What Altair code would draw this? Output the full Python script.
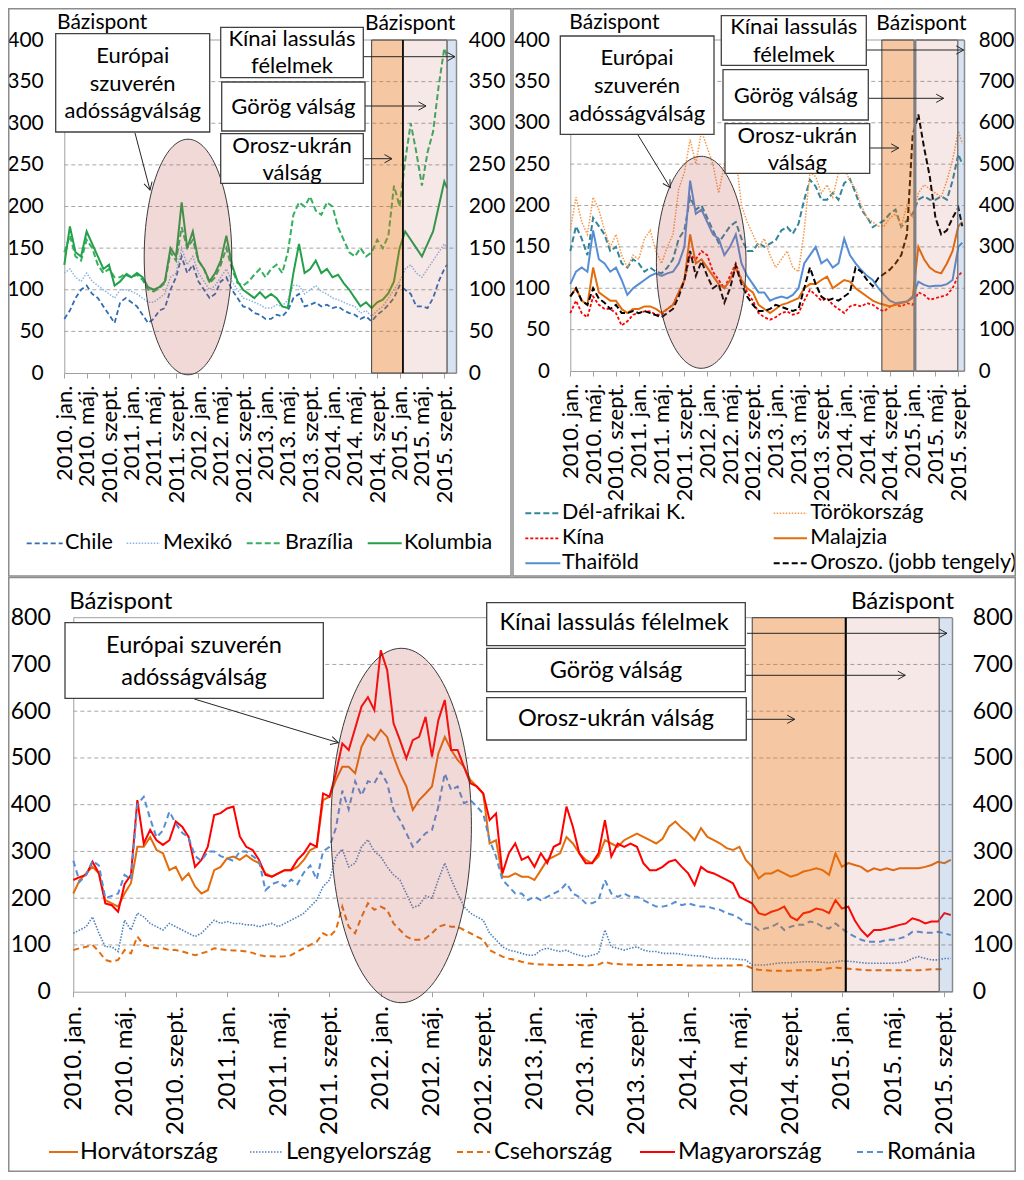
import math
import altair as alt
import pandas as pd

FONT = "Lato"
INK = "#000000"
AXIS_C = "#A0A0A0"
GRID_C = "#A6A6A6"
BOX_STROKE = "#404040"
CANVAS_W, CANVAS_H = 1008, 1164   # drawing area; the page adds an 8px margin
PAGE_OFF = 8

# ---------------- shared x-axis tick labels ----------------
TICK_LABELS = ["2010. jan.", "2010. máj.", "2010. szept.", "2011. jan.", "2011. máj.", "2011. szept.",
               "2012. jan.", "2012. máj.", "2012. szept.", "2013. jan.", "2013. máj.", "2013. szept.",
               "2014. jan.", "2014. máj.", "2014. szept.", "2015. jan.", "2015. máj.", "2015. szept."]
TICK_STEP = 4  # months between labels
TICK_T = [i * TICK_STEP for i in range(len(TICK_LABELS))]

# ---------------- Panel A: Latin America (bp) ----------------
T_A = list(range(69)) + [68.5]   # months since 2010 Jan
A_CHILE = [65, 75, 90, 100, 105, 95, 90, 80, 70, 60,
           85, 90, 85, 80, 70, 60, 65, 75, 78, 100,
           115, 140, 120, 130, 110, 100, 90, 95, 110, 115,
           100, 90, 80, 78, 72, 70, 65, 65, 70, 68,
           75, 90, 95, 80, 82, 85, 80, 82, 78, 80,
           75, 72, 70, 65, 68, 62, 70, 75, 82, 90,
           105, 100, 95, 80, 80, 78, 90, 110, 125, 130]
A_MEXIKO = [120, 125, 115, 110, 120, 110, 105, 100, 95, 90,
            100, 100, 98, 95, 90, 85, 85, 90, 95, 115,
            120, 150, 130, 140, 120, 110, 100, 105, 115, 125,
            110, 100, 90, 88, 85, 82, 78, 78, 82, 80,
            88, 105, 105, 95, 100, 105, 98, 95, 90, 88,
            85, 82, 80, 72, 75, 68, 75, 80, 90, 100,
            110, 125, 130, 120, 115, 125, 135, 145, 155, 150]
A_BRAZIL = [145, 165, 140, 135, 160, 150, 130, 120, 125, 115,
            115, 120, 115, 118, 112, 100, 98, 102, 108, 145,
            135, 175, 150, 160, 135, 125, 108, 115, 130, 150,
            125, 108, 105, 110, 118, 125, 115, 125, 130, 120,
            145, 190, 205, 200, 212, 195, 190, 205, 200, 175,
            160, 145, 140, 150, 140, 145, 160, 150, 165, 225,
            200, 255, 300, 265, 225, 265, 290, 345, 390, 380]
A_KOLUMB = [130, 176, 145, 140, 170, 155, 140, 125, 130, 105,
            110, 118, 115, 120, 115, 103, 100, 103, 110, 150,
            140, 205, 150, 170, 135, 125, 110, 120, 135, 165,
            130, 110, 100, 95, 90, 97, 90, 95, 90, 80,
            78, 120, 155, 120, 125, 135, 120, 125, 115, 118,
            108, 100, 90, 80, 85, 78, 85, 88, 96, 110,
            150, 170, 160, 150, 140, 155, 170, 200, 230, 222]

# ---------------- Panel B: Asia / EMEA (bp; Russia on right axis) ----------------
T_B = list(range(69)) + [68.7]
B_DELAFR = [145, 175, 160, 140, 185, 175, 165, 145, 150, 130,
            125, 135, 130, 120, 125, 120, 118, 125, 135, 160,
            170, 210, 195, 200, 185, 170, 155, 165, 175, 180,
            160, 145, 145, 155, 150, 154, 158, 170, 174, 166,
            178, 207, 231, 223, 207, 207, 215, 207, 227, 232,
            215, 195, 186, 174, 178, 182, 190, 195, 174, 182,
            190, 207, 211, 207, 207, 211, 207, 230, 262, 250]
B_TOROK = [170, 210, 180, 165, 210, 195, 170, 150, 165, 140,
           125, 140, 135, 160, 170, 145, 130, 150, 165, 220,
           240, 280, 250, 290, 270, 250, 215, 250, 240, 260,
           200, 180, 165, 150, 160, 140, 125, 135, 145, 125,
           120, 170, 240, 235, 215, 225, 210, 240, 245, 230,
           220, 200, 185, 180, 175, 175, 185, 190, 175, 200,
           185, 215, 225, 220, 215, 210, 230, 255, 290, 275]
B_KINA = [70, 85, 70, 65, 90, 80, 75, 75, 70, 55,
          60, 68, 70, 72, 72, 68, 68, 75, 80, 95,
          110, 140, 135, 145, 140, 120, 110, 100, 115, 130,
          110, 95, 85, 70, 65, 62, 65, 70, 72, 68,
          70, 85, 98, 92, 85, 88, 80, 75, 70, 78,
          80, 78, 82, 80, 75, 72, 78, 80, 78, 82,
          80, 95, 92, 86, 88, 90, 92, 100, 115, 120]
B_MALAJ = [90, 100, 85, 80, 125, 95, 90, 85, 85, 75,
           70, 75, 75, 78, 78, 75, 70, 75, 80, 95,
           110, 165, 130, 135, 125, 115, 105, 100, 110, 125,
           110, 100, 95, 80, 75, 70, 75, 80, 82, 85,
           88, 100, 105, 105, 110, 114, 100, 105, 110, 108,
           100, 95, 90, 85, 82, 80, 78, 80, 82, 84,
           88, 150, 135, 125, 120, 118, 130, 145, 175, 180]
B_THAI = [105, 120, 125, 120, 170, 135, 130, 120, 125, 110,
          92, 100, 105, 110, 115, 118, 115, 118, 120, 130,
          150, 230, 190, 195, 180, 165, 160, 140, 150, 165,
          130, 115, 105, 95, 95, 85, 88, 90, 88, 92,
          100, 130, 140, 150, 130, 135, 125, 130, 160, 140,
          130, 122, 115, 110, 100, 92, 85, 82, 83, 84,
          90, 108, 104, 102, 103, 103, 105, 110, 150, 155]
B_OROSZ = [180, 200, 170, 160, 200, 175, 165, 150, 160, 140,
           140, 145, 140, 145, 140, 135, 130, 140, 150, 180,
           220, 290, 230, 265, 230, 200, 210, 165, 200, 255,
           210, 180, 160, 145, 145, 150, 160, 155, 150, 145,
           150, 200, 250, 210, 180, 170, 175, 170, 180, 190,
           250, 240, 220, 205, 225, 235, 245, 260, 280, 330,
           570, 620, 540, 470, 370, 330, 340, 370, 395, 350]

# ---------------- Panel C: Central & Eastern Europe (bp), half-month steps ----------------
T_C = [i / 2 for i in range(138)]
C_HORVAT = [210, 239, 253, 267, 253, 196, 189, 182, 210, 232,
            310, 310, 331, 303, 296, 260, 267, 239, 253, 225,
            210, 217, 260, 267, 285, 289, 282, 292, 282, 275,
            253, 246, 253, 260, 260, 267, 282, 303, 310, 410,
            417, 453, 481, 481, 467, 524, 550, 538, 560, 545,
            503, 467, 439, 389, 410, 424, 439, 510, 545, 517,
            496, 481, 453, 439, 424, 317, 324, 246, 246, 253,
            246, 246, 239, 260, 282, 289, 296, 331, 317, 296,
            282, 275, 289, 324, 317, 310, 324, 331, 338, 331,
            324, 317, 327, 353, 364, 350, 339, 324, 350, 331,
            324, 317, 307, 303, 310, 282, 267, 242, 253, 253,
            260, 253, 246, 250, 257, 260, 264, 260, 250, 296,
            267, 275, 271, 267, 257, 264, 260, 264, 260, 264,
            264, 264, 264, 267, 271, 278, 275, 282]
C_LENGYEL = [125, 132, 139, 160, 125, 96, 96, 86, 153, 132,
             168, 160, 146, 139, 132, 146, 139, 132, 125, 118,
             125, 139, 153, 146, 150, 146, 146, 143, 143, 139,
             143, 146, 139, 146, 153, 160, 168, 182, 196, 225,
             239, 289, 305, 267, 275, 310, 325, 300, 289, 267,
             250, 239, 210, 180, 185, 205, 200, 240, 275, 240,
             210, 182, 168, 160, 153, 125, 111, 96, 89, 86,
             82, 78, 78, 89, 93, 89, 86, 89, 82, 78,
             75, 78, 82, 132, 96, 93, 89, 93, 96, 89,
             86, 86, 82, 82, 82, 80, 78, 77, 76, 74,
             71, 71, 71, 70, 69, 68, 57, 57, 57, 59,
             61, 62, 62, 63, 64, 64, 64, 63, 62, 64,
             66, 65, 64, 62, 61, 61, 61, 61, 61, 62,
             64, 71, 75, 71, 68, 68, 71, 71]
C_CSEH = [89, 93, 96, 100, 86, 68, 64, 68, 89, 82,
          118, 100, 96, 93, 93, 89, 89, 86, 82, 78,
          82, 86, 93, 91, 89, 88, 88, 86, 83, 78,
          76, 76, 75, 76, 78, 86, 93, 100, 107, 125,
          118, 132, 182, 139, 125, 160, 189, 175, 182, 175,
          146, 132, 118, 111, 111, 114, 125, 139, 143, 139,
          139, 132, 125, 118, 111, 89, 82, 75, 71, 68,
          64, 61, 59, 58, 58, 57, 57, 57, 57, 57,
          56, 57, 58, 64, 60, 59, 58, 58, 57, 57,
          57, 57, 57, 57, 57, 57, 56, 56, 56, 56,
          56, 56, 56, 56, 57, 56, 50, 47, 46, 45,
          45, 45, 45, 46, 46, 46, 46, 48, 50, 52,
          50, 49, 48, 47, 46, 46, 46, 46, 46, 46,
          46, 46, 46, 47, 48, 48, 48, None]
C_MAGYAR = [239, 245, 250, 278, 253, 189, 185, 171, 230, 250,
            410, 317, 346, 324, 314, 324, 364, 353, 331, 267,
            282, 310, 378, 382, 392, 396, 332, 310, 303, 282,
            250, 246, 253, 260, 260, 282, 296, 317, 310, 424,
            417, 467, 531, 517, 563, 610, 630, 602, 730, 688,
            574, 538, 499, 538, 545, 588, 503, 581, 624, 517,
            517, 481, 446, 439, 424, 367, 381, 253, 296, 317,
            282, 289, 267, 296, 275, 310, 317, 396, 353, 296,
            275, 275, 296, 367, 289, 317, 310, 317, 310, 275,
            260, 260, 267, 278, 282, 267, 253, 228, 267, 257,
            253, 246, 239, 232, 203, 196, 189, 168, 164, 171,
            175, 182, 160, 153, 168, 171, 178, 175, 168, 196,
            178, 182, 153, 132, 118, 132, 132, 135, 139, 143,
            146, 157, 153, 146, 150, 150, 168, 164]
C_ROMANIA = [280, 235, 250, 280, 270, 200, 205, 210, 250, 240,
             400, 417, 370, 330, 345, 385, 360, 340, 330, 290,
             280, 300, 300, 290, 285, 280, 300, 300, 290, 280,
             217, 230, 235, 225, 240, 230, 255, 270, 240, 300,
             310, 350, 430, 390, 450, 420, 450, 446, 470, 446,
             389, 367, 339, 310, 324, 339, 346, 396, 467, 431,
             439, 403, 410, 396, 381, 324, 289, 239, 225, 210,
             210, 196, 203, 196, 203, 210, 217, 232, 210, 203,
             189, 189, 196, 239, 210, 203, 210, 203, 203, 196,
             189, 182, 182, 185, 192, 185, 189, 185, 182, 182,
             178, 175, 168, 164, 157, 146, 143, 132, 135, 139,
             146, 132, 139, 143, 143, 150, 147, 139, 135, 146,
             135, 125, 118, 111, 107, 107, 107, 111, 111, 114,
             118, 128, 128, 126, 126, 128, 125, 121]

# ---------------- series styles ----------------
STYLE = {
    "Chile": dict(color="#2E6DB4", dash=[5, 3], width=1.8),
    "Mexikó": dict(color="#8EB4E3", dash=[1.5, 1.5], width=1.5),
    "Brazília": dict(color="#34B060", dash=[6, 3], width=2),
    "Kolumbia": dict(color="#22A04A", dash=None, width=2),
    "Dél-afrikai K.": dict(color="#31869B", dash=[6, 3], width=2),
    "Törökország": dict(color="#F79646", dash=[1.5, 1.5], width=1.5),
    "Kína": dict(color="#FF0000", dash=[3, 2], width=1.8),
    "Malajzia": dict(color="#E46C0A", dash=None, width=2),
    "Thaiföld": dict(color="#558ED5", dash=None, width=2),
    "Oroszo. (jobb tengely)": dict(color="#000000", dash=[6, 3], width=2),
    "Horvátország": dict(color="#E46C0A", dash=None, width=2),
    "Lengyelország": dict(color="#4F81BD", dash=[1.5, 1.5], width=1.6),
    "Csehország": dict(color="#E46C0A", dash=[6, 4], width=2),
    "Magyarország": dict(color="#FF0000", dash=None, width=2),
    "Románia": dict(color="#558ED5", dash=[6, 4], width=2),
}

ANN_E = ["Európai", "szuverén", "adósságválság"]


def build_panel(P):
    X0, YT, W, H, TX, VY = P["X0"], P["YT"], P["W"], P["H"], P["TX"], P["VY"]
    px0, px1 = X0 - PAGE_OFF, X0 - PAGE_OFF + W
    pyb, pyt = YT - PAGE_OFF + H, YT - PAGE_OFF

    def tx(px):
        return (px - X0) / W * TX

    def vy(py):
        return (YT + H - py) / H * VY

    xs = alt.Scale(domain=[0, TX], range=[px0, px1], nice=False, zero=False)
    ys = alt.Scale(domain=[0, VY], range=[pyb, pyt], nice=False, zero=False)

    def X(f):
        return alt.X(f"{f}:Q", scale=xs, axis=None)

    def Y(f):
        return alt.Y(f"{f}:Q", scale=ys, axis=None)

    layers = []

    # gridlines + top border of the plot area
    gdf = pd.DataFrame({"t0": 0.0, "t1": TX, "v": [v for v in P["yvals"] if 0 < v < VY]})
    layers.append(alt.Chart(gdf).mark_rule(color=GRID_C, strokeDash=[4, 3], strokeWidth=1).encode(
        x=X("t0"), x2=alt.X2("t1"), y=Y("v")))
    tdf_ = pd.DataFrame({"t0": [0.0], "t1": [TX], "v": [VY]})
    layers.append(alt.Chart(tdf_).mark_rule(color=AXIS_C, strokeWidth=1).encode(
        x=X("t0"), x2=alt.X2("t1"), y=Y("v")))

    # axes
    label_expr = "[" + ",".join("'%s'" % s for s in TICK_LABELS) + "][round(datum.value/%d)]" % TICK_STEP
    x_axis = alt.Axis(orient="bottom", values=TICK_T, labelExpr=label_expr, labelAngle=270, labelAlign="right",
                      labelBaseline="middle", labelFont=FONT, labelFontSize=P["xfs"], labelColor=INK,
                      labelPadding=P["xpad"], ticks=True, tickSize=5, tickColor=AXIS_C, domain=True,
                      domainColor=AXIS_C, grid=False, title=None, labelFlush=False, labelOverlap=False,
                      offset=pyb - CANVAS_H)
    yl_axis = alt.Axis(orient="left", values=P["yvals"], labelFont=FONT, labelFontSize=P["yfs"],
                       labelColor=INK, labelPadding=P["lpad"], ticks=False, domain=True, domainColor=AXIS_C,
                       grid=False, title=None, labelFlush=False, labelOverlap=False, format="d",
                       offset=-px0)
    yr_axis = alt.Axis(orient="right", values=P["yvals"], labelExpr="format(datum.value*%d, 'd')" % P["rfactor"],
                       labelFont=FONT, labelFontSize=P["yfs"], labelColor=INK, labelPadding=P["rpad"],
                       ticks=False, domain=True, domainColor=AXIS_C, grid=False, title=None,
                       labelFlush=False, labelOverlap=False, offset=-(CANVAS_W - px1))
    ax_df = pd.DataFrame({"t": [0.0], "v": [0.0]})
    layers.append(alt.Chart(ax_df).mark_point(opacity=0).encode(
        x=alt.X("t:Q", scale=xs, axis=x_axis), y=alt.Y("v:Q", scale=ys, axis=yl_axis)))
    layers.append(alt.Chart(ax_df).mark_point(opacity=0).encode(
        x=X("t"), y=alt.Y("v:Q", scale=ys, axis=yr_axis)))

    # data lines
    for name, tvals, vals, factor in P["series"]:
        st = STYLE[name]
        df = pd.DataFrame({"t": tvals, "v": [float("nan") if v is None else v / factor for v in vals]}).dropna()
        kw = dict(color=st["color"], strokeWidth=st["width"])
        if st["dash"]:
            kw["strokeDash"] = st["dash"]
        layers.append(alt.Chart(df).mark_line(**kw).encode(x=X("t"), y=Y("v")))

    # crisis bands
    for (t0, t1, fill, op, stroke) in P["bands"]:
        df = pd.DataFrame({"t0": [t0], "t1": [t1], "v0": [0], "v1": [VY]})
        layers.append(alt.Chart(df).mark_rect(fill=fill, fillOpacity=op, stroke=stroke, strokeWidth=1).encode(
            x=X("t0"), x2=alt.X2("t1"), y=Y("v0"), y2=alt.Y2("v1")))
    dt, dcol, dw = P["divider"]
    ddf = pd.DataFrame({"t": [dt], "v0": [0], "v1": [VY]})
    layers.append(alt.Chart(ddf).mark_rule(color=dcol, strokeWidth=dw).encode(
        x=X("t"), y=Y("v0"), y2=alt.Y2("v1")))

    # ellipse
    ecx, ecy, ea, eb = P["ellipse"]
    r = ea / eb
    epath = "M %.4f 0 A %.4f 1 0 1 0 %.4f 0 A %.4f 1 0 1 0 %.4f 0 Z" % (-r, r, r, r, -r)
    edf = pd.DataFrame({"t": [tx(ecx)], "v": [vy(ecy)]})
    layers.append(alt.Chart(edf).mark_point(shape=epath, size=4 * eb * eb, filled=True, fill="#C0504D",
                                            fillOpacity=0.22, stroke="#3A3A3A", strokeWidth=1, opacity=1).encode(
        x=X("t"), y=Y("v")))

    # arrows
    arows = []
    for (x1, y1, x2, y2) in P["arrows"]:
        ang = math.degrees(math.atan2(y2 - y1, x2 - x1)) % 360
        arows.append({"x1": tx(x1), "y1": vy(y1), "x2": tx(x2), "y2": vy(y2), "ang": ang})
    adf = pd.DataFrame(arows)
    layers.append(alt.Chart(adf).mark_rule(color="#262626", strokeWidth=1).encode(
        x=X("x1"), y=Y("y1"), x2=alt.X2("x2"), y2=alt.Y2("y2")))
    layers.append(alt.Chart(adf).mark_point(shape="M -1 -0.55 L 0 0 L -1 0.55", filled=False, color="#262626",
                                            strokeWidth=1, size=225, opacity=1).encode(
        x=X("x2"), y=Y("y2"), angle=alt.Angle("ang:Q", scale=None)))

    # boxes + texts
    brows, trows = [], []
    for (bx1, by1, bx2, by2, lines, cx, ys_) in P["boxes"]:
        brows.append({"x1": tx(bx1), "y1": vy(by1), "x2": tx(bx2), "y2": vy(by2)})
        for line, yy in zip(lines, ys_):
            trows.append({"x": tx(cx), "y": vy(yy), "text": line})
    bdf = pd.DataFrame(brows)
    layers.append(alt.Chart(bdf).mark_rect(fill="white", stroke=BOX_STROKE, strokeWidth=1.3).encode(
        x=X("x1"), x2=alt.X2("x2"), y=Y("y1"), y2=alt.Y2("y2")))
    tdf = pd.DataFrame(trows)
    layers.append(alt.Chart(tdf).mark_text(font=FONT, fontSize=P["afs"], color=INK, align="center",
                                           baseline="middle").encode(x=X("x"), y=Y("y"), text="text:N"))

    # unit titles
    udf = pd.DataFrame([{"x": tx(ux), "y": vy(uy), "text": "Bázispont"} for (ux, uy) in P["units"]])
    layers.append(alt.Chart(udf).mark_text(font=FONT, fontSize=P["ufs"], color=INK, align="left",
                                           baseline="middle").encode(x=X("x"), y=Y("y"), text="text:N"))

    # legend
    lrows = []
    for (name, lx1, lx2, ltx, ly) in P["legend"]:
        st = STYLE[name]
        df = pd.DataFrame({"x1": [tx(lx1)], "x2": [tx(lx2)], "y": [vy(ly)]})
        kw = dict(color=st["color"], strokeWidth=st["width"])
        if st["dash"]:
            kw["strokeDash"] = st["dash"]
        layers.append(alt.Chart(df).mark_rule(**kw).encode(x=X("x1"), x2=alt.X2("x2"), y=Y("y")))
        lrows.append({"x": tx(ltx), "y": vy(ly), "text": name})
    ldf = pd.DataFrame(lrows)
    layers.append(alt.Chart(ldf).mark_text(font=FONT, fontSize=P["lfs"], color=INK, align="left",
                                           baseline="middle").encode(x=X("x"), y=Y("y"), text="text:N"))

    # panel frame
    fx1, fy1, fx2, fy2 = P["frame"]
    fdf = pd.DataFrame({"x1": [tx(fx1)], "y1": [vy(fy1)], "x2": [tx(fx2)], "y2": [vy(fy2)]})
    layers.append(alt.Chart(fdf).mark_rect(fill="white", fillOpacity=0, stroke="#8C8C8C", strokeWidth=1.5).encode(
        x=X("x1"), x2=alt.X2("x2"), y=Y("y1"), y2=alt.Y2("y2")))

    return alt.layer(*layers).resolve_scale(x="shared", y="shared").resolve_axis(
        x="independent", y="independent")


OR_F, PK_F, BL_F = "#E46C0A", "#C0504D", "#4F81BD"

PA = dict(
    X0=64.3, YT=40, W=392, H=333, TX=392 / 5.588, VY=400, yvals=list(range(0, 401, 50)), rfactor=1,
    lpad=21, rpad=12, yfs=21, xfs=22, xpad=7, afs=22, ufs=21, lfs=21.5,
    series=[("Chile", T_A, A_CHILE, 1), ("Mexikó", T_A, A_MEXIKO, 1),
            ("Brazília", T_A, A_BRAZIL, 1), ("Kolumbia", T_A, A_KOLUMB, 1)],
    bands=[(55.0, 60.6, OR_F, 0.38, "#404040"), (60.6, 68.5, PK_F, 0.13, "#404040"),
           (68.5, 392 / 5.588, BL_F, 0.22, "#7F7F7F")],
    divider=(60.6, "#000000", 1.5),
    ellipse=(188, 257, 43.8, 117.8),
    arrows=[(135, 133, 150, 190), (363.3, 56.7, 455, 56.7), (365, 106, 426, 106), (363.3, 158.7, 392, 158.7)],
    boxes=[(55.7, 33.7, 209.7, 132, ANN_E, 132.7, [56, 84, 111]),
           (220.7, 27.3, 363.3, 77.7, ["Kínai lassulás", "félelmek"], 292, [38.7, 66]),
           (221.7, 82, 365, 131, ["Görög válság"], 293.3, [107]),
           (220.7, 133.7, 363.3, 183.3, ["Orosz-ukrán", "válság"], 292, [146, 173])],
    units=[(57, 23), (365, 24)],
    legend=[("Chile", 26.7, 62.7, 65, 543.3), ("Mexikó", 126.7, 160, 163, 543.3),
            ("Brazília", 246.7, 282.7, 285, 543.3), ("Kolumbia", 367.7, 401.7, 404, 543.3)],
    frame=(8.75, 8.75, 511, 576),
)

PB = dict(
    X0=570.3, YT=40, W=394, H=331, TX=394 / 5.706, VY=400, yvals=list(range(0, 401, 50)), rfactor=2,
    lpad=21, rpad=14, yfs=20.5, xfs=22, xpad=7, afs=22, ufs=21, lfs=21.5,
    series=[("Dél-afrikai K.", T_B, B_DELAFR, 1), ("Törökország", T_B, B_TOROK, 1),
            ("Kína", T_B, B_KINA, 1), ("Malajzia", T_B, B_MALAJ, 1),
            ("Thaiföld", T_B, B_THAI, 1), ("Oroszo. (jobb tengely)", T_B, B_OROSZ, 2)],
    bands=[(54.6, 60.3, OR_F, 0.38, "#404040"), (60.5, 67.9, PK_F, 0.13, "#404040"),
           (67.9, 394 / 5.706, BL_F, 0.22, "#7F7F7F")],
    divider=(60.4, "#7F7F7F", 3),
    ellipse=(701.2, 262.3, 44.8, 106),
    arrows=[(638, 135, 670.3, 187.7), (866.3, 50, 963.7, 50), (868.3, 98.3, 943.7, 98.3), (869.7, 148, 898.7, 148)],
    boxes=[(560.3, 36, 714, 134.3, ANN_E, 637, [58, 86, 114]),
           (721.3, 15.7, 866.3, 65.3, ["Kínai lassulás", "félelmek"], 793.8, [27.3, 55]),
           (723, 69.7, 868.3, 120, ["Görög válság"], 795.7, [96]),
           (725, 123.7, 869.7, 173.3, ["Orosz-ukrán", "válság"], 797.3, [135.7, 162.7])],
    units=[(569.3, 22.7), (876.3, 24)],
    legend=[("Dél-afrikai K.", 525.3, 560.3, 562, 513.3), ("Törökország", 773.7, 807, 810.3, 513.3),
            ("Kína", 525.3, 560.3, 562, 538.3), ("Malajzia", 773.7, 807, 810.3, 538.3),
            ("Thaiföld", 525.3, 560.3, 562, 563.3), ("Oroszo. (jobb tengely)", 773.7, 807, 810.3, 563.3)],
    frame=(513, 8.75, 1015.25, 576),
)

PC = dict(
    X0=73.3, YT=617.7, W=879, H=374, TX=879 / 12.81, VY=800, yvals=list(range(0, 801, 100)), rfactor=1,
    lpad=23, rpad=20, yfs=23, xfs=24, xpad=9, afs=23.5, ufs=24, lfs=23.5,
    series=[("Horvátország", T_C, C_HORVAT, 1), ("Lengyelország", T_C, C_LENGYEL, 1),
            ("Csehország", T_C, C_CSEH, 1), ("Magyarország", T_C, C_MAGYAR, 1),
            ("Románia", T_C, C_ROMANIA, 1)],
    bands=[(53.0, 60.3, OR_F, 0.38, "#404040"), (60.3, 67.6, PK_F, 0.13, "#404040"),
           (67.6, 879 / 12.81, BL_F, 0.22, "#7F7F7F")],
    divider=(60.3, "#000000", 2),
    ellipse=(401.2, 825.5, 70.2, 177.2),
    arrows=[(194.3, 699, 338.3, 742.7), (747, 633.3, 947, 633.3), (746, 675.3, 905.3, 675.3),
            (747, 719.3, 794.7, 719.3)],
    boxes=[(65, 622.7, 323.3, 698.3, ["Európai szuverén", "adósságválság"], 194, [646, 677.7]),
           (486.7, 602.7, 745.3, 645.7, ["Kínai lassulás félelmek"], 614, [623.3]),
           (486.7, 648.3, 745.3, 691.7, ["Görög válság"], 616, [670.7]),
           (486.7, 697.7, 746.3, 740, ["Orosz-ukrán válság"], 616, [719.3])],
    units=[(69.3, 601.7), (851, 601.7)],
    legend=[("Horvátország", 49, 78, 80, 1152), ("Lengyelország", 250, 283, 286, 1152),
            ("Csehország", 457, 490, 494, 1152), ("Magyarország", 640, 675, 678, 1152),
            ("Románia", 857, 885, 887, 1152)],
    frame=(8.75, 577.5, 1015.25, 1171.25),
)

pA = build_panel(PA)
pB = build_panel(PB)
pC = build_panel(PC)

chart = alt.layer(pA, pB, pC).resolve_scale(x="independent", y="independent").resolve_axis(
    x="independent", y="independent").properties(
    width=CANVAS_W, height=CANVAS_H, padding=0, background="white",
    autosize=alt.AutoSizeParams(type="none")).configure_view(stroke="transparent")

chart.save("out.html", embed_options={"renderer": "svg", "actions": False})
